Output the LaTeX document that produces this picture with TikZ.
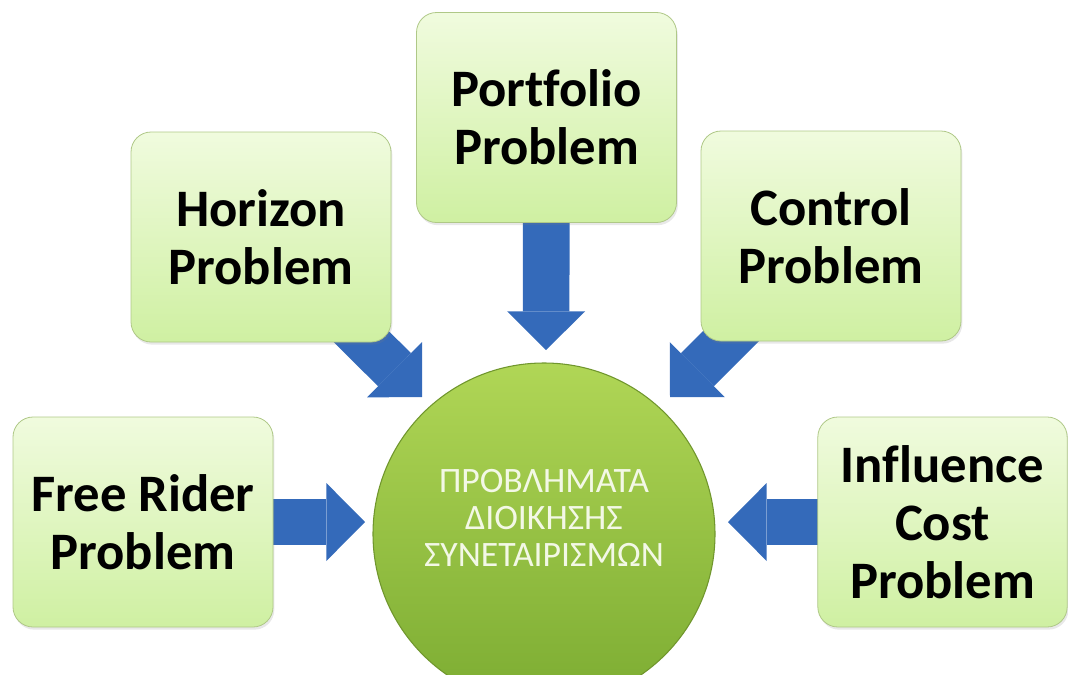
\documentclass[tikz,border=0pt]{standalone}
\usepackage{fontspec}
\setmainfont{Carlito}[Ligatures=NoCommon]
\usepackage{tikz}
\usetikzlibrary{
  arrows.meta,
  shadows,
  backgrounds}
\definecolor{boxtop}{RGB}{240,251,222}
\definecolor{boxbot}{RGB}{207,240,162}
\definecolor{boxline}{RGB}{175,200,135}
\definecolor{hubtop}{RGB}{176,214,86}
\definecolor{hubbot}{RGB}{124,172,50}
\definecolor{hubline}{RGB}{112,150,45}
\definecolor{hubtext}{RGB}{243,248,230}
\definecolor{pushblue}{RGB}{52,106,186}

\begin{document}
\begin{tikzpicture}[x=0.75pt,y=-0.75pt,
  problem/.style={rectangle, rounded corners=15pt, draw=boxline, line width=0.6pt,
    top color=boxtop, bottom color=boxbot, minimum width=195pt, minimum height=157.5pt,
    align=center, font=\bfseries\fontsize{39.5pt}{43.5pt}\selectfont,
    drop shadow={opacity=0.18, shadow xshift=1pt, shadow yshift=-2pt}},
  hub/.style={circle, draw=hubline, line width=0.8pt, top color=hubtop, bottom color=hubbot,
    minimum size=256.5pt, inner sep=0pt, text=hubtext,
    font=\fontsize{26.8pt}{27.6pt}\selectfont},
  push/.style={pushblue, line width=35pt,
    -{Triangle[width=58.5pt, length=29pt, line width=0pt]}}]
\useasboundingbox (0,0) rectangle (1068,675);
\clip (0,0) rectangle (1068,675);

\node[problem] (free) at (143,522) {Free Rider\\Problem};
\node[problem] (horizon) at (261,237) {Horizon\\Problem};
\node[problem] (portfolio) at (546.5,117.5) {Portfolio\\Problem};
\node[problem] (control) at (831,236) {Control\\Problem};
\node[problem, minimum width=187pt] (influence) at (942.5,522) {Influence\\Cost\\Problem};
\node[hub] (hub) at (544,534) {\raisebox{9pt}[\height][\depth]{\begin{tabular}{@{}c@{}}
  ΠΡΟΒΛΗΜΑΤΑ\\ΔΙΟΙΚΗΣΗΣ\\ΣΥΝΕΤΑΙΡΙΣΜΩΝ\end{tabular}}};

\coordinate (tipW) at (365,522);
\coordinate (tipNW) at (422,397);
\coordinate (tipN) at (546,350);
\coordinate (tipNE) at (670,397);
\coordinate (tipE) at (728,522);

\begin{scope}[on background layer]
\foreach \src/\tip in {free/tipW, horizon/tipNW, portfolio/tipN, control/tipNE, influence/tipE}
  \draw[push] (\src.center) -- (\tip);
\end{scope}
\end{tikzpicture}
\end{document}
